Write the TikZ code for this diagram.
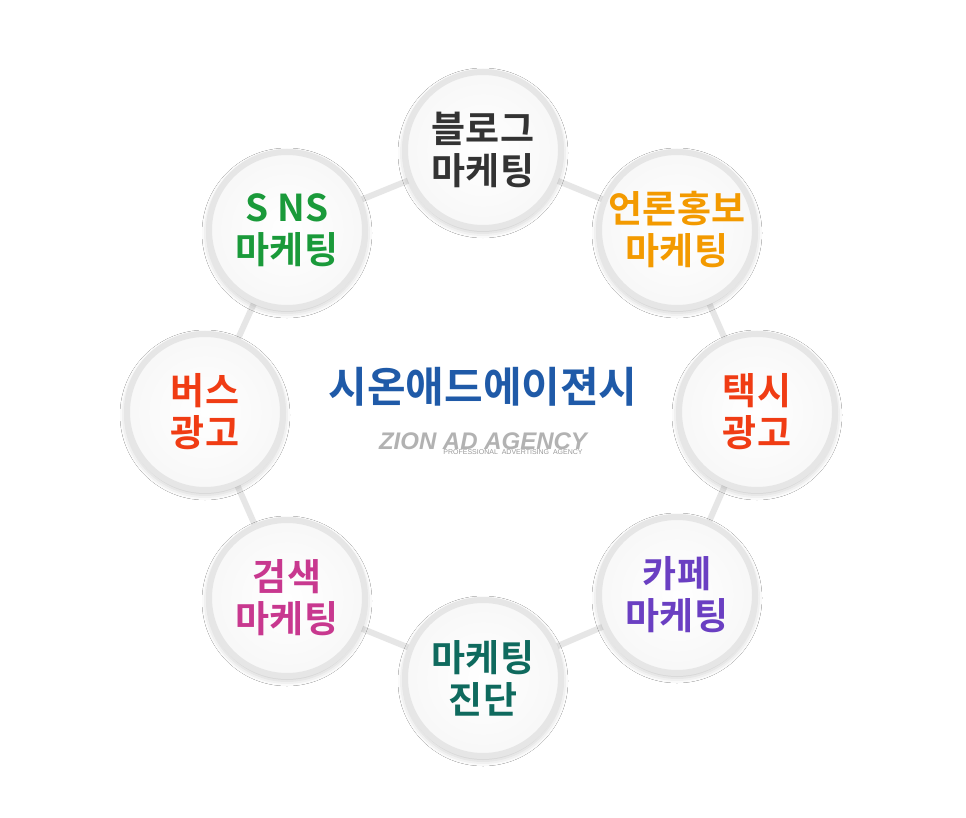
\documentclass[tikz,border=0pt]{standalone}
\usepackage{fontspec}
\setmainfont{Liberation Sans}
\newfontfamily\kr{Noto Sans CJK KR}[BoldFont={* Bold}]
\usetikzlibrary{shadows.blur,backgrounds}
\definecolor{cblog}{HTML}{333333}
\definecolor{cpress}{HTML}{F39A00}
\definecolor{ctaxi}{HTML}{F03C14}
\definecolor{ccafe}{HTML}{6A3FC2}
\definecolor{cdiag}{HTML}{0F6A5E}
\definecolor{csearch}{HTML}{C8388F}
\definecolor{csns}{HTML}{1A9A3A}
\definecolor{cmain}{HTML}{1F5AA8}
\definecolor{ring}{HTML}{E6E6E6}
\tikzset{
  bubble/.style={circle,minimum size=156pt,inner sep=0pt,draw=ring,line width=6pt,
    inner color=white,outer color=white!97!black,
    blur shadow={shadow xshift=0pt,shadow yshift=-3pt,shadow blur radius=7pt,shadow opacity=30},
    align=center,font=\kr\bfseries\fontsize{37}{42}\selectfont},
  link/.style={draw=ring,line width=6pt}
}
\begin{document}
\begin{tikzpicture}[x=1pt,y=-1pt]
\fill[white] (0,0) rectangle (966,818);
\useasboundingbox (0,0) rectangle (966,818);
\foreach \n/\x/\y in {blog/483/150,press/677/230,taxi/757/412,cafe/677/595,diag/483/678,search/287/598,bus/205/412,sns/287/230}
  \coordinate (p\n) at (\x,\y);
\foreach \a/\b in {blog/press,press/taxi,taxi/cafe,cafe/diag,diag/search,search/bus,bus/sns,sns/blog}
  \path[link] (p\a) -- (p\b);
\node[bubble,text=cblog] (blog) at (pblog) {블로그\\마케팅};
\node[bubble,text=cpress] (press) at (ppress) {언론홍보\\마케팅};
\node[bubble,text=ctaxi] (taxi) at (ptaxi) {택시\\광고};
\node[bubble,text=ccafe] (cafe) at (pcafe) {카페\\마케팅};
\node[bubble,text=cdiag] (diag) at (pdiag) {마케팅\\진단};
\node[bubble,text=csearch] (search) at (psearch) {검색\\마케팅};
\node[bubble,text=ctaxi] (bus) at (pbus) {버스\\광고};
\node[bubble,text=csns] (sns) at (psns) {S NS\\마케팅};
\node[text=cmain,font=\kr\bfseries\fontsize{42}{46}\selectfont] (title) at (483,387) {시온애드에이젼시};
\node[text=black!30,font=\bfseries\itshape\fontsize{24}{26}\selectfont] (logo) at (483,441) {ZION AD AGENCY};
\node[text=black!40,font=\fontsize{7}{8}\selectfont,anchor=north,inner sep=0pt] (sub) at ([xshift=30pt,yshift=4pt]logo.south) {PROFESSIONAL\ \ ADVERTISING\ \ AGENCY};
\end{tikzpicture}
\end{document}
